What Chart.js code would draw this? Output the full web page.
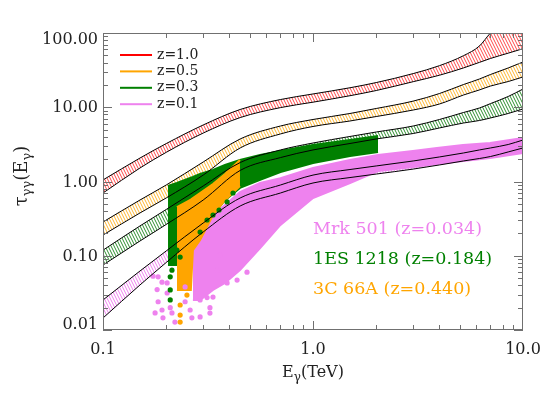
<!DOCTYPE html>
<html>
<head>
<meta charset="utf-8">
<script src="https://cdn.jsdelivr.net/npm/chart.js@4.4.0/dist/chart.umd.min.js"></script>
<style>
  html, body { margin: 0; padding: 0; background: #fff; }
  canvas { display: block; }
</style>
</head>
<body>
<canvas id="tauChart" width="554" height="396"></canvas>
<script>
// energies (TeV) where the optical depth bands were read
const bandE = [0.1, 0.15, 0.2, 0.3, 0.45, 0.7, 1.0, 1.5, 2.0, 3.0, 4.0, 5.2, 6.2, 7.0, 8.5, 10.0];
const z10Upper = [1.05, 2.07, 3.24, 5.77, 9.33, 12.7, 15.1, 18.3, 21.5, 28.4, 36.3, 49.4, 66.8, 100, 160, 250];
const z10Lower = [0.70, 1.52, 2.47, 4.49, 7.26, 9.89, 11.7, 14.3, 16.8, 22.1, 27.0, 33.8, 40.2, 45.4, 53.5, 61.5];
const z05Upper = [0.285, 0.563, 0.897, 1.83, 3.74, 5.59, 6.84, 8.24, 9.62, 12.1, 15.3, 20.2, 24.0, 27.6, 33.8, 40.7];
const z05Lower = [0.190, 0.377, 0.60, 1.22, 2.83, 4.37, 5.51, 6.53, 7.50, 9.18, 11.06, 14.6, 17.1, 19.3, 22.2, 25.6];
const z03Upper = [0.119, 0.252, 0.42, 0.87, 1.80, 2.66, 3.30, 4.04, 4.64, 5.59, 6.84, 8.49, 9.77, 11.2, 13.96, 17.6];
const z03Lower = [0.075, 0.158, 0.264, 0.563, 1.41, 2.10, 2.66, 3.25, 3.74, 4.43, 5.26, 6.13, 6.63, 7.17, 8.24, 9.47];
const z01Upper = [0.0254, 0.0623, 0.116, 0.276, 0.60, 0.897, 1.22, 1.45, 1.62, 1.89, 2.14, 2.42, 2.66, 2.83, 3.15, 3.62];
const z01Lower = [0.0145, 0.0404, 0.0811, 0.209, 0.468, 0.70, 0.955, 1.13, 1.26, 1.47, 1.67, 1.89, 2.04, 2.17, 2.50, 2.83];

const bandNames = ['z=1.0', 'z=0.5', 'z=0.3', 'z=0.1'];
const bandColors = ['#ff0000', '#ffa500', '#008000', '#ee82ee'];
const hatchColors = ['#ff4a4a', '#ffb733', '#2f8f2f', '#ee82ee'];

// source envelopes (dense part of each cloud)
const mrkE = [0.268, 0.29, 0.334, 0.381, 0.449, 0.56, 0.70, 1.0, 1.5, 2.04, 2.99, 3.89, 5.18, 6.97, 10.0];
const mrkHigh = [0.20, 0.237, 0.354, 0.482, 0.72, 0.955, 1.11, 1.52, 1.95, 2.27, 2.58, 2.83, 3.10, 3.30, 3.85];
const mrkLow = [0.0254, 0.0254, 0.0346, 0.043, 0.0643, 0.127, 0.26, 0.60, 0.95, 1.38, 1.57, 1.72, 1.89, 2.07, 2.42];

const esE = [0.204, 0.225, 0.268, 0.29, 0.334, 0.381, 0.449, 0.56, 0.70, 1.0, 1.5, 2.04];
const esHigh = [0.87, 0.955, 1.15, 1.26, 1.43, 1.67, 1.95, 2.27, 2.58, 3.10, 3.62, 4.10];
const esLow = [0.075, 0.075, 0.14, 0.209, 0.354, 0.56, 0.82, 1.05, 1.34, 1.77, 2.20, 2.50];

const c66E = [0.225, 0.262, 0.268, 0.29, 0.334, 0.381, 0.449];
const c66High = [0.45, 0.57, 0.60, 0.70, 0.925, 1.26, 1.95];
const c66Low = [0.0346, 0.0346, 0.119, 0.163, 0.354, 0.56, 0.87];

// loose points below the dense clouds
const mrkDotE = [0.173, 0.183, 0.191, 0.202, 0.181, 0.202, 0.183, 0.177, 0.191, 0.193, 0.209, 0.213, 0.220, 0.246, 0.246,
                 0.260, 0.265, 0.280, 0.290, 0.290, 0.313, 0.323, 0.323, 0.334, 0.349, 0.361, 0.390, 0.435, 0.485];
const mrkDotTau = [0.053, 0.052, 0.044, 0.043, 0.035, 0.0315, 0.024, 0.017, 0.0186, 0.0146, 0.020, 0.017, 0.0128, 0.038, 0.024,
                   0.0186, 0.0146, 0.035, 0.0254, 0.015, 0.0273, 0.020, 0.0169, 0.0278, 0.064, 0.102, 0.043, 0.047, 0.060];
const esDotE = [0.209, 0.209, 0.209, 0.213, 0.225, 0.233, 0.290, 0.313, 0.334, 0.357, 0.390, 0.416];
const esDotTau = [0.052, 0.0346, 0.0254, 0.064, 0.119, 0.096, 0.209, 0.303, 0.354, 0.413, 0.53, 0.70];
const c66DotE = [0.233, 0.233, 0.233, 0.251, 0.254];
const c66DotTau = [0.0217, 0.0159, 0.0128, 0.0295, 0.0443];

const sourceNames = ['Mrk 501 (z=0.034)', '1ES 1218 (z=0.184)', '3C 66A (z=0.440)'];
const sourceColors = ['#ee82ee', '#008000', '#ffa500'];

const xTicks = [0.1, 1, 10];
const xTickLabels = ['0.1', '1.0', '10.0'];
const yTicks = [0.01, 0.1, 1, 10, 100];
const yTickLabels = ['0.01', '0.10', '1.00', '10.00', '100.00'];

function pts(xs, ys) {
    return xs.map((x, i) => ({ x: x, y: ys[i] }));
}

function makeHatch(color) {
    const c = document.createElement('canvas');
    c.width = 3;
    c.height = 6;
    const g = c.getContext('2d');
    g.strokeStyle = color;
    g.lineWidth = 1;
    for (let k = -1; k <= 1; k++) {
        g.beginPath();
        g.moveTo(3 * k, 0);
        g.lineTo(3 * k + 3, 6);
        g.stroke();
    }
    return g.createPattern(c, 'repeat');
}

const bandUpper = [z10Upper, z05Upper, z03Upper, z01Upper];
const bandLower = [z10Lower, z05Lower, z03Lower, z01Lower];

const datasets = [];

// hatched bands (bottom layer)
bandUpper.forEach((up, i) => {
    datasets.push({
        data: pts(bandE, bandLower[i]), borderWidth: 0, pointRadius: 0, fill: false,
        cubicInterpolationMode: 'monotone', order: 20
    });
    datasets.push({
        data: pts(bandE, up), borderWidth: 0, pointRadius: 0, fill: '-1',
        backgroundColor: makeHatch(hatchColors[i]),
        cubicInterpolationMode: 'monotone', order: 20
    });
});

// dense clouds
function cloud(xs, lo, hi, color, order) {
    datasets.push({ data: pts(xs, lo), borderColor: color, borderWidth: 2, pointRadius: 0, fill: false, order: order });
    datasets.push({ data: pts(xs, hi), borderColor: color, borderWidth: 2, pointRadius: 0, fill: '-1',
                    backgroundColor: color, order: order });
}
cloud(mrkE, mrkLow, mrkHigh, sourceColors[0], 12);
cloud(esE, esLow, esHigh, sourceColors[1], 11);
cloud(c66E, c66Low, c66High, sourceColors[2], 10);

// loose dots
function dots(xs, ys, color, order) {
    datasets.push({ data: pts(xs, ys), showLine: false, pointRadius: 2.6, pointBorderWidth: 0,
                    pointBackgroundColor: color, order: order });
}
dots(mrkDotE, mrkDotTau, sourceColors[0], 9);
dots(esDotE, esDotTau, sourceColors[1], 7);
dots(c66DotE, c66DotTau, sourceColors[2], 8);

// black band edges on top
bandUpper.forEach((up, i) => {
    [up, bandLower[i]].forEach(arr => {
        datasets.push({ data: pts(bandE, arr), borderColor: '#000', borderWidth: 1, pointRadius: 0,
                        fill: false, cubicInterpolationMode: 'monotone', order: 1 });
    });
});

function drawParts(ctx, parts, x, y, big, small) {
    let cx = x;
    parts.forEach(p => {
        ctx.font = (p.sub ? small : big) + "px 'DejaVu Serif'";
        ctx.fillText(p.t, cx, y + (p.sub ? 4 : 0));
        cx += ctx.measureText(p.t).width;
    });
}

function partsWidth(ctx, parts, big, small) {
    let w = 0;
    parts.forEach(p => {
        ctx.font = (p.sub ? small : big) + "px 'DejaVu Serif'";
        w += ctx.measureText(p.t).width;
    });
    return w;
}

const framePlugin = {
    id: 'frame',
    beforeDraw(chart) {
        const ctx = chart.ctx;
        ctx.save();
        ctx.fillStyle = '#fff';
        ctx.fillRect(0, 0, chart.width, chart.height);
        ctx.restore();
    },
    afterDraw(chart) {
        const { ctx, chartArea: a, scales: { x, y } } = chart;
        ctx.save();
        ctx.strokeStyle = '#707070';
        ctx.lineWidth = 1;
        ctx.strokeRect(a.left + 0.5, a.top + 0.5, a.right - a.left - 1, a.bottom - a.top - 1);

        ctx.beginPath();
        for (let d = -1; d <= 0; d++) {
            for (let m = 1; m <= 9; m++) {
                const v = m * Math.pow(10, d);
                const px = Math.round(x.getPixelForValue(v)) + 0.5;
                const len = m === 1 ? 9 : 5;
                ctx.moveTo(px, a.bottom);
                ctx.lineTo(px, a.bottom - len);
                ctx.moveTo(px, a.top);
                ctx.lineTo(px, a.top + len);
            }
        }
        for (let d = -2; d <= 1; d++) {
            for (let m = 1; m <= 9; m++) {
                const v = m * Math.pow(10, d);
                const py = Math.round(y.getPixelForValue(v)) + 0.5;
                const len = m === 1 ? 9 : 5;
                ctx.moveTo(a.left, py);
                ctx.lineTo(a.left + len, py);
                ctx.moveTo(a.right, py);
                ctx.lineTo(a.right - len, py);
            }
        }
        ctx.stroke();

        // tick labels
        ctx.fillStyle = '#222';
        ctx.font = "16px 'DejaVu Serif'";
        ctx.textBaseline = 'middle';
        ctx.textAlign = 'center';
        xTicks.forEach((v, i) => ctx.fillText(xTickLabels[i], x.getPixelForValue(v), 350));
        ctx.textAlign = 'right';
        yTicks.forEach((v, i) => {
            let py = y.getPixelForValue(v) + 1;
            py = Math.min(Math.max(py, a.top + 7), a.bottom - 5);
            ctx.fillText(yTickLabels[i], a.left - 5, py);
        });

        // axis titles
        ctx.textAlign = 'left';
        ctx.textBaseline = 'alphabetic';
        const xt = [{ t: 'E' }, { t: 'γ', sub: true }, { t: '(TeV)' }];
        const xw = partsWidth(ctx, xt, 16, 12);
        drawParts(ctx, xt, (a.left + a.right) / 2 - xw / 2, 377, 16, 12);

        const yt = [{ t: 'τ' }, { t: 'γγ', sub: true }, { t: '(E' }, { t: 'γ', sub: true }, { t: ')' }];
        const yw = partsWidth(ctx, yt, 18, 13);
        ctx.save();
        ctx.translate(27, 176);
        ctx.rotate(-Math.PI / 2);
        drawParts(ctx, yt, -yw / 2, 0, 18, 13);
        ctx.restore();

        // band legend
        ctx.textBaseline = 'middle';
        ctx.font = "14px 'DejaVu Serif'";
        bandNames.forEach((name, i) => {
            const ly = 55 + i * 16.4;
            ctx.strokeStyle = bandColors[i];
            ctx.lineWidth = 2;
            ctx.beginPath();
            ctx.moveTo(120, ly);
            ctx.lineTo(152, ly);
            ctx.stroke();
            ctx.fillStyle = '#222';
            ctx.fillText(name, 157, ly);
        });

        // source labels
        ctx.font = "17.5px 'DejaVu Serif'";
        sourceNames.forEach((name, i) => {
            ctx.fillStyle = sourceColors[i];
            ctx.fillText(name, 313, 229 + i * 30);
        });
        ctx.restore();
    }
};

new Chart(document.getElementById('tauChart'), {
    type: 'line',
    data: { datasets: datasets },
    options: {
        responsive: false,
        animation: false,
        devicePixelRatio: 1,
        layout: { padding: { left: 103, right: 31, top: 33, bottom: 66 } },
        scales: {
            x: { type: 'logarithmic', min: 0.1, max: 10, display: false },
            y: { type: 'logarithmic', min: 0.01, max: 100, display: false }
        },
        plugins: {
            legend: { display: false },
            tooltip: { enabled: false }
        }
    },
    plugins: [framePlugin]
});
</script>
</body>
</html>
